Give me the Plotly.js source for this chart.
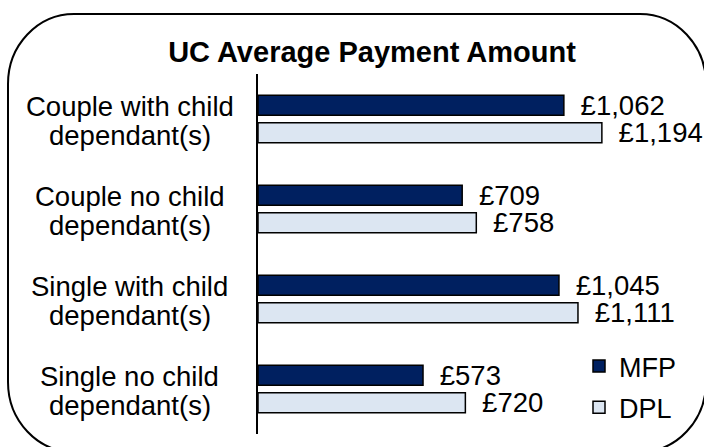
<!DOCTYPE html>
<html>
<head>
<meta charset="utf-8">
<script src="https://cdn.plot.ly/plotly-3.0.1.min.js"></script>
<style>html,body{margin:0;padding:0;background:#fff;}#chart{width:704px;height:447px;}</style>
</head>
<body>
<div id="chart"></div>
<script>
const categories = ["Couple with child dependant(s)", "Couple no child dependant(s)", "Single with child dependant(s)", "Single no child dependant(s)"];
const labelLine1 = ["Couple with child", "Couple no child", "Single with child", "Single no child"];
const labelLine2 = ["dependant(s)", "dependant(s)", "dependant(s)", "dependant(s)"];
const seriesNames = ["MFP", "DPL"];
const mfpValues = [1062, 709, 1045, 573];
const dplValues = [1194, 758, 1111, 720];
const chartTitle = "UC Average Payment Amount";

const W = 704, H = 447;
const ml = 258, mr = 14, mt = 74, mb = 13;
const pw = W - ml - mr, ph = H - mt - mb;
const FONT = "Liberation Sans, Arial, sans-serif";
const fx = px => ((px - ml) / pw).toFixed(5);
const fy = py => ((H - mb - py) / ph).toFixed(5);

// rounded border (pixel geometry converted to paper coords)
const L = 8, R = 706, T = 14, B = 452, rx = 66, ry = 70, kx = 0.5523 * rx, ky = 0.5523 * ry;
const borderPath =
  "M" + fx(L + rx) + "," + fy(T) +
  " H" + fx(R - rx) +
  " C" + fx(R - rx + kx) + "," + fy(T) + " " + fx(R) + "," + fy(T + ry - ky) + " " + fx(R) + "," + fy(T + ry) +
  " V" + fy(B - ry) +
  " C" + fx(R) + "," + fy(B - ry + ky) + " " + fx(R - rx + kx) + "," + fy(B) + " " + fx(R - rx) + "," + fy(B) +
  " H" + fx(L + rx) +
  " C" + fx(L + rx - kx) + "," + fy(B) + " " + fx(L) + "," + fy(B - ry + ky) + " " + fx(L) + "," + fy(B - ry) +
  " V" + fy(T + ry) +
  " C" + fx(L) + "," + fy(T + ry - ky) + " " + fx(L + rx - kx) + "," + fy(T) + " " + fx(L + rx) + "," + fy(T) + " Z";

const textFont = {family: FONT, size: 27.5, color: "#000"};

const traces = [
  {
    type: "bar", orientation: "h", name: seriesNames[0], legendgroup: "a",
    x: mfpValues, y: categories,
    marker: {color: "#002060", line: {color: "#000", width: 1.5}},
    texttemplate: "\u2002£%{x:,}", textposition: "outside", textfont: textFont,
    constraintext: "none", cliponaxis: false, hoverinfo: "skip"
  },
  {
    type: "bar", orientation: "h", name: seriesNames[1], legendgroup: "b",
    x: dplValues, y: categories,
    marker: {color: "#DCE6F2", line: {color: "#000", width: 1.5}},
    texttemplate: "\u2002£%{x:,}", textposition: "outside", textfont: textFont,
    constraintext: "none", cliponaxis: false, hoverinfo: "skip"
  }
];

const annotations = [];
categories.forEach((c, i) => {
  annotations.push({xref: "paper", yref: "y", x: fx(130), y: c, text: labelLine1[i], showarrow: false,
    xanchor: "center", yanchor: "middle", yshift: 13, font: textFont});
  annotations.push({xref: "paper", yref: "y", x: fx(130), y: c, text: labelLine2[i], showarrow: false,
    xanchor: "center", yanchor: "middle", yshift: -16, font: textFont});
});

const layout = {
  width: W, height: H,
  margin: {l: ml, r: mr, t: mt, b: mb, pad: 0},
  paper_bgcolor: "#fff", plot_bgcolor: "rgba(0,0,0,0)",
  font: {family: FONT, size: 27, color: "#000"},
  title: {text: "<b>" + chartTitle + "</b>", font: {family: FONT, size: 29, color: "#000"},
    x: 372 / W, xanchor: "center", xref: "container", y: 1 - 52 / H, yanchor: "middle", yref: "container"},
  barmode: "group", bargap: 0.385, bargroupgap: 0.28,
  xaxis: {range: [0, 1500], showgrid: false, zeroline: false, showline: false, showticklabels: false, ticks: "", fixedrange: true},
  yaxis: {type: "category", autorange: "reversed", showgrid: false, zeroline: false, showline: true,
    linecolor: "#000", linewidth: 2, showticklabels: false, ticks: "", fixedrange: true},
  showlegend: true,
  legend: {x: fx(579), y: fy(342), xanchor: "left", yanchor: "top", xref: "paper", yref: "paper",
    font: {family: FONT, size: 27, color: "#000"}, bgcolor: "rgba(0,0,0,0)", traceorder: "grouped",
    itemwidth: 30, tracegroupgap: 3},
  annotations: annotations,
  shapes: [{type: "path", xref: "paper", yref: "paper", path: borderPath, line: {color: "#000", width: 2}, layer: "below"}]
};

Plotly.newPlot("chart", traces, layout, {displayModeBar: false, staticPlot: true});
</script>
</body>
</html>
